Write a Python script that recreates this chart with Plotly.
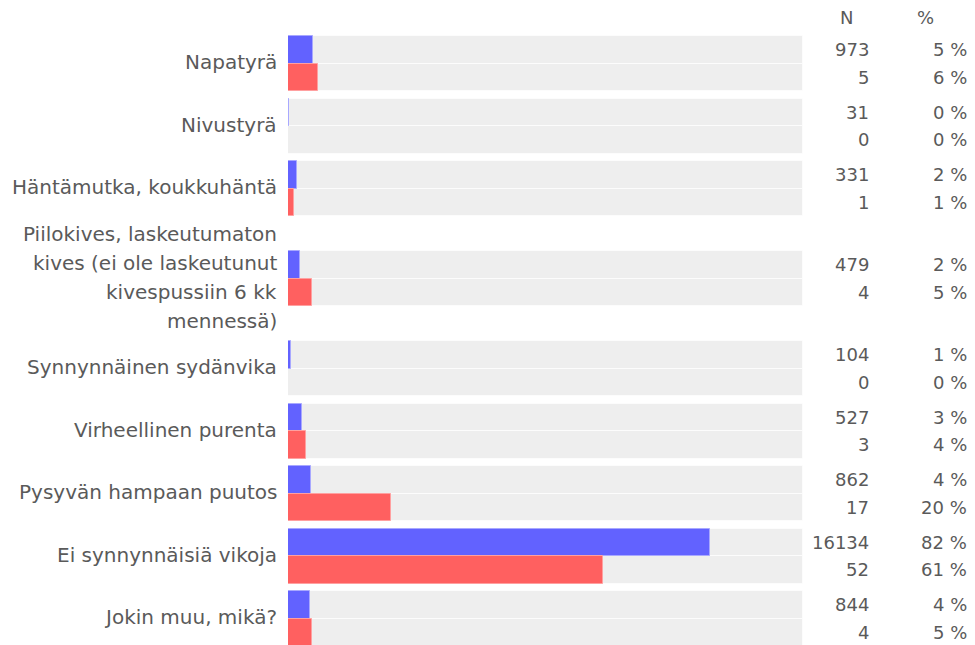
import plotly.graph_objects as go

# ---- data ----
categories = [
    "Napatyrä",
    "Nivustyrä",
    "Häntämutka, koukkuhäntä",
    "Piilokives, laskeutumaton<br>kives (ei ole laskeutunut<br>kivespussiin 6 kk<br>mennessä)",
    "Synnynnäinen sydänvika",
    "Virheellinen purenta",
    "Pysyvän hampaan puutos",
    "Ei synnynnäisiä vikoja",
    "Jokin muu, mikä?",
]
n_blue = [973, 31, 331, 479, 104, 527, 862, 16134, 844]
n_red = [5, 0, 1, 4, 0, 3, 17, 52, 4]
pct_blue = [4.9, 0.2, 1.7, 2.4, 0.53, 2.7, 4.4, 82.0, 4.3]
pct_red = [5.9, 0.0, 1.2, 4.7, 0.0, 3.5, 20.0, 61.2, 4.7]
col_headers = ["N", "%"]

# ---- layout parameters ----
OFF = 8                      # page body margin
W, H = 975 - OFF, 645 - OFF
PL, PW = 288 - OFF, 515
PR = W - PL - PW
ROW_MIN = 62.5
LINE_H = 29.0
BAND = 55.0
TOP = 32.25
FONT = "DejaVu Sans, Verdana, sans-serif"
TXT = "#5a5a5a"
BLUE, RED, GRAY = "#6262ff", "#ff6060", "#eeeeee"

# row centers (page-pixel-like y units), computed from label line counts
centers = []
y = TOP
for lab in categories:
    nl = lab.count("<br>") + 1
    h = max(ROW_MIN, nl * 29.4)
    centers.append(y + h / 2)
    y += h

half = BAND / 2
y_blue = [c - half / 2 for c in centers]
y_red = [c + half / 2 for c in centers]

fig = go.Figure()
for ys in (y_blue, y_red):
    fig.add_trace(go.Bar(
        x=[100] * len(ys), y=ys, orientation="h", width=half,
        marker=dict(color=GRAY, line=dict(color="rgba(255,255,255,0.7)", width=1)),
        hoverinfo="skip", showlegend=False))
fig.add_trace(go.Bar(
    x=pct_blue, y=y_blue, orientation="h", width=half,
    marker=dict(color=BLUE, line=dict(color="#a8a8ff", width=1)),
    showlegend=False))
fig.add_trace(go.Bar(
    x=pct_red, y=y_red, orientation="h", width=half,
    marker=dict(color=RED, line=dict(color="#ffa0a0", width=1)),
    showlegend=False))

ann = []
# category labels, one annotation per line for exact line spacing
for lab, c in zip(categories, centers):
    lines = lab.split("<br>")
    n = len(lines)
    for i, ln in enumerate(lines):
        ann.append(dict(x=0, xref="paper", y=c + (i - (n - 1) / 2) * LINE_H - 1.5, yref="y",
                        text=ln, showarrow=False, xanchor="right", yanchor="middle",
                        xshift=-9, font=dict(family=FONT, size=20, color=TXT)))
# table columns
for ys, ns, ps in ((y_blue, n_blue, pct_blue), (y_red, n_red, pct_red)):
    for yy, nv, pv in zip(ys, ns, ps):
        ann.append(dict(x=1, xref="paper", y=yy, yref="y", text=str(nv), showarrow=False,
                        xanchor="right", yanchor="middle", xshift=68,
                        font=dict(family=FONT, size=18, color=TXT)))
        ann.append(dict(x=1, xref="paper", y=yy, yref="y", text=f"{int(pv + 0.5)} %",
                        showarrow=False, xanchor="right", yanchor="middle", xshift=166,
                        font=dict(family=FONT, size=18, color=TXT)))
for hdr, xs in zip(col_headers, (43, 122)):
    ann.append(dict(x=1, xref="paper", y=17, yref="y", text=hdr, showarrow=False,
                    xanchor="center", yanchor="middle", xshift=xs,
                    font=dict(family=FONT, size=18, color=TXT)))

fig.update_layout(
    width=W, height=H, autosize=False,
    margin=dict(l=PL, r=PR, t=0, b=0, pad=0),
    paper_bgcolor="white", plot_bgcolor="white",
    barmode="overlay", bargap=0,
    xaxis=dict(range=[0, 100], visible=False, fixedrange=True),
    yaxis=dict(range=[645, OFF], visible=False, fixedrange=True),
    annotations=ann,
)
fig.write_html("out.html", config={"displayModeBar": False})
